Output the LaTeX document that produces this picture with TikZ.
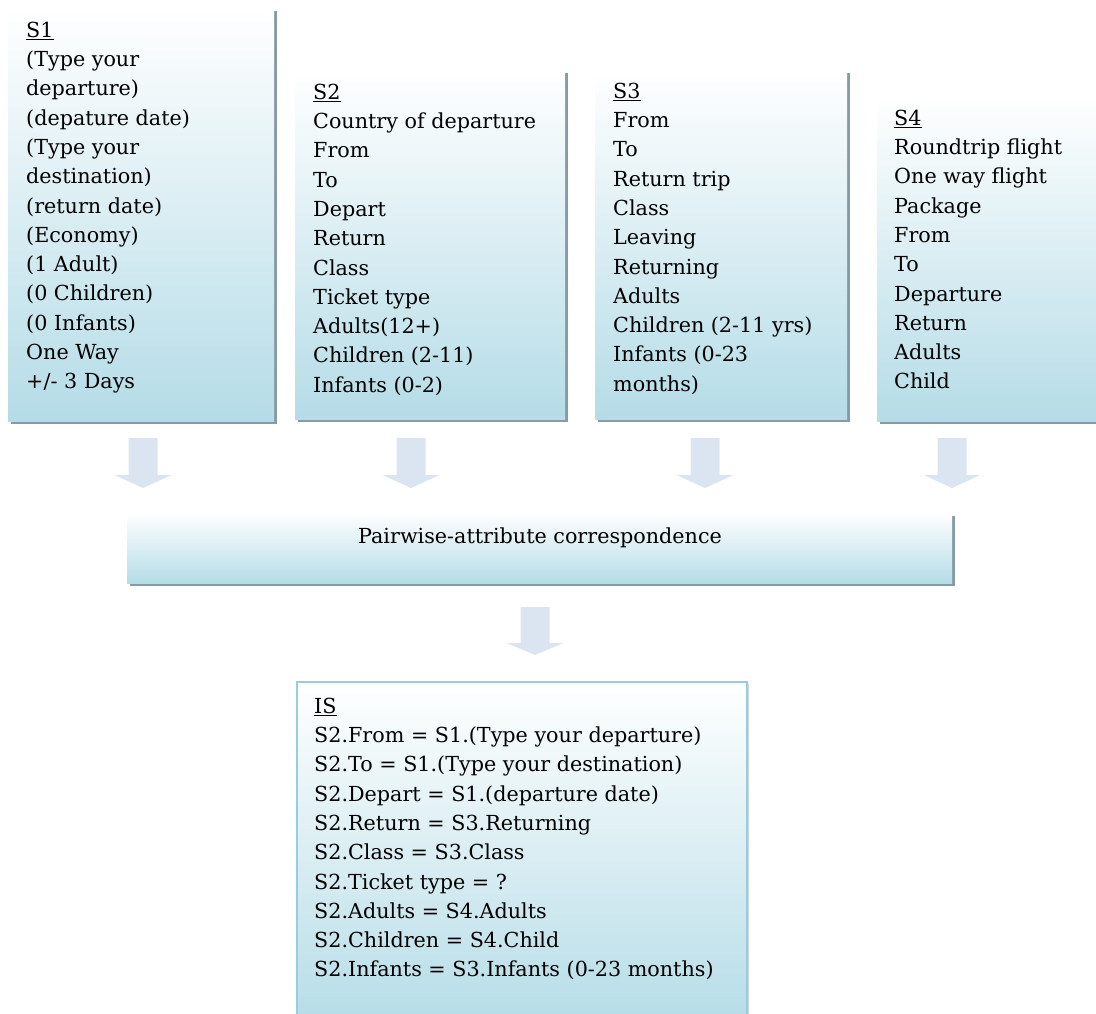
\documentclass[tikz,border=0pt]{standalone}
\usepackage{fontspec}
\setmainfont{DejaVu Serif}
\usetikzlibrary{shadows}
\definecolor{boxblue}{RGB}{181,220,231}
\definecolor{shadowgray}{RGB}{135,155,165}
\definecolor{arrowblue}{RGB}{219,229,241}
\definecolor{isborder}{RGB}{150,206,221}
\newcommand{\mainfs}{\fontsize{20.7}{29.3}\selectfont}
\begin{document}
\begin{tikzpicture}[x=1pt,y=-1pt,
  srcbox/.style={anchor=north west, inner sep=0pt, outer sep=0pt, draw=none,
    top color=white, bottom color=boxblue,
    drop shadow={shadow xshift=3pt, shadow yshift=-3pt, fill=shadowgray, opacity=1}},
  isbox/.style={anchor=north west, inner sep=0pt, outer sep=0pt, draw=isborder, line width=1.5pt,
    top color=white, bottom color=boxblue,
    drop shadow={shadow xshift=2pt, shadow yshift=-2pt, fill=shadowgray, opacity=0.4}},
  txt/.style={anchor=north west, inner sep=0pt, align=left, font=\mainfs},
  blockarrow/.style={fill=arrowblue, draw=none}
]
\useasboundingbox (0,0) rectangle (1096,1014);

% source boxes
\node[srcbox, minimum width=266pt, minimum height=413pt] (s1box) at (8,8) {};
\node[srcbox, minimum width=270pt, minimum height=349pt] (s2box) at (295,70) {};
\node[srcbox, minimum width=252pt, minimum height=349pt] (s3box) at (595,70) {};
\node[srcbox, minimum width=230pt, minimum height=325pt] (s4box) at (877,96) {};

\node[txt] (s1txt) at (26,16.5) {\strut\underline{S1}\\(Type your\\departure)\\(depature date)\\(Type your\\destination)\\(return date)\\(Economy)\\(1 Adult)\\(0 Children)\\(0 Infants)\\One Way\\+/- 3 Days};
\node[txt] (s2txt) at (313,78.5) {\strut\underline{S2}\\Country of departure\\From\\To\\Depart\\Return\\Class\\Ticket type\\Adults(12+)\\Children (2-11)\\Infants (0-2)};
\node[txt] (s3txt) at (613,77.5) {\strut\underline{S3}\\From\\To\\Return trip\\Class\\Leaving\\Returning\\Adults\\Children (2-11 yrs)\\Infants (0-23\\months)};
\node[txt] (s4txt) at (894,104.5) {\strut\underline{S4}\\Roundtrip flight\\One way flight\\Package\\From\\To\\Departure\\Return\\Adults\\Child};

% block arrows
\foreach \cx/\nm in {143/a1, 411/a2, 705/a3, 952/a4}{
  \fill[blockarrow] (\cx-14.5,438) -- (\cx+14.5,438) -- (\cx+14.5,475) -- (\cx+28.5,475)
    -- (\cx,488) -- (\cx-28.5,475) -- (\cx-14.5,475) -- cycle;
}

% middle bar
\node[srcbox, minimum width=825pt, minimum height=70pt] (pbar) at (127,513) {};
\node[anchor=base, inner sep=0pt, font=\mainfs] (ptxt) at (540,543) {Pairwise-attribute correspondence};

% bottom arrow
\fill[blockarrow] (520.5,607) -- (549.5,607) -- (549.5,643) -- (563.5,643)
  -- (535,655) -- (506.5,643) -- (520.5,643) -- cycle;

% IS box
\node[isbox, minimum width=450pt, minimum height=345pt] (isb) at (297,682) {};
\node[txt] (istxt) at (314,692.5) {\strut\underline{IS}\\S2.From = S1.(Type your departure)\\S2.To = S1.(Type your destination)\\S2.Depart = S1.(departure date)\\S2.Return = S3.Returning\\S2.Class = S3.Class\\S2.Ticket type = ?\\S2.Adults = S4.Adults\\S2.Children = S4.Child\\S2.Infants = S3.Infants (0-23 months)};
\end{tikzpicture}
\end{document}
